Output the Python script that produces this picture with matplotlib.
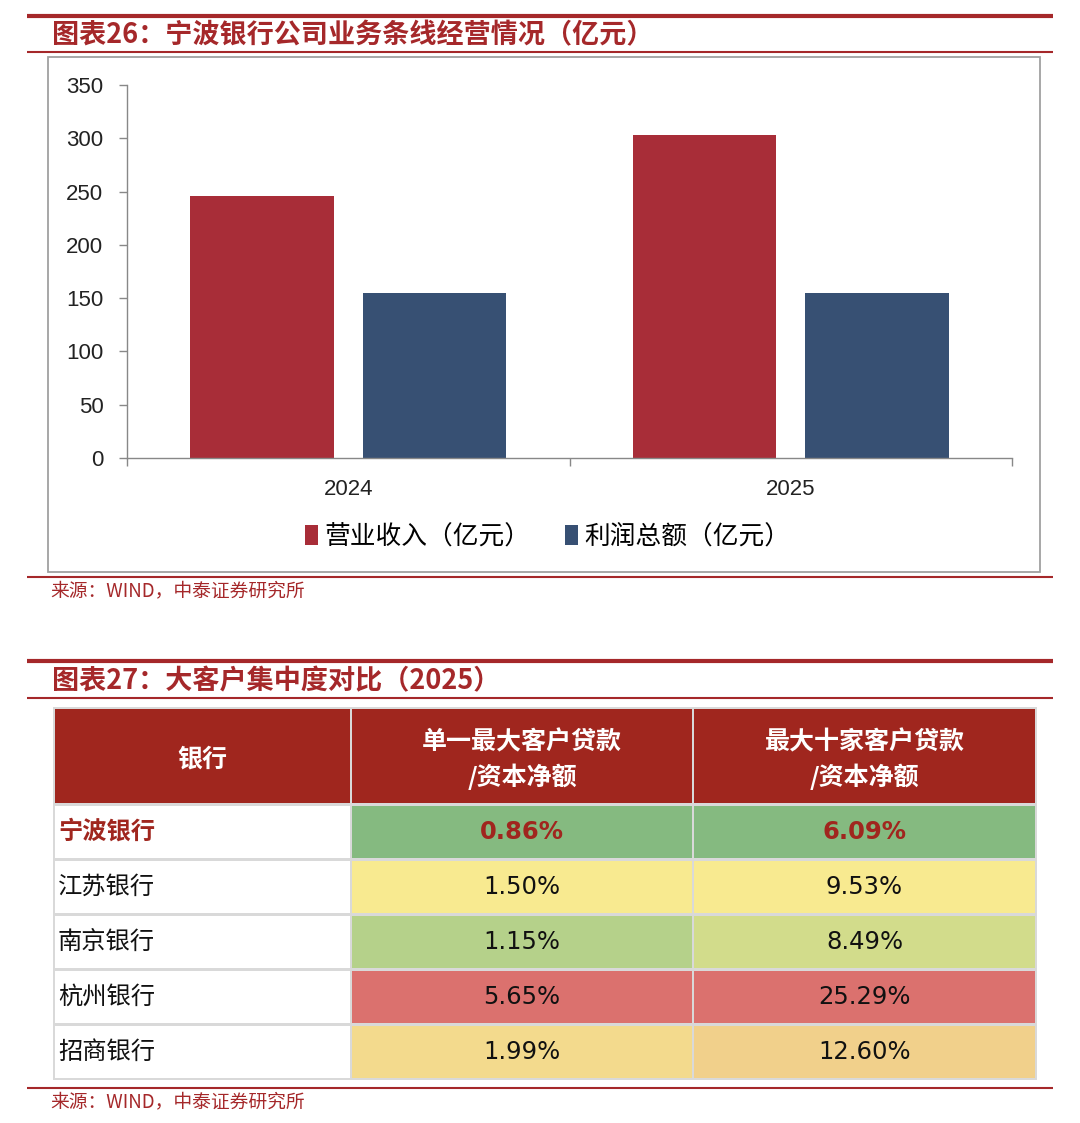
import matplotlib
matplotlib.use('Agg')
import matplotlib.pyplot as plt
from matplotlib.patches import Rectangle
import numpy as np

plt.rcParams['font.family'] = ['Liberation Sans', 'Noto Sans CJK SC', 'DejaVu Sans']

# chart 26 data
years = ['2024', '2025']
revenue = [245.6, 303.1]
profit = [154.7, 154.5]
series_names = ['营业收入（亿元）', '利润总额（亿元）']

# chart 27 data
banks = ['宁波银行', '江苏银行', '南京银行', '杭州银行', '招商银行']
top1 = ['0.86%', '1.50%', '1.15%', '5.65%', '1.99%']
top10 = ['6.09%', '9.53%', '8.49%', '25.29%', '12.60%']
headers = ['银行', '单一最大客户贷款\n/资本净额', '最大十家客户贷款\n/资本净额']
top1_colors = ['#85BA80', '#F8EA90', '#B5D18A', '#DB716E', '#F3DA8D']
top10_colors = ['#85BA80', '#F8EA90', '#D2DC8B', '#DB716E', '#F1D08B']

RED = '#A5282A'
HEAD = '#A0261E'
W, H = 1080, 1123

fig = plt.figure(figsize=(W / 100, H / 100), dpi=100)
bg = fig.add_axes([0, 0, 1, 1])
bg.set_xlim(0, W)
bg.set_ylim(H, 0)
bg.axis('off')


def rect(l, t, r, b):
    return [l / W, 1 - b / H, (r - l) / W, (b - t) / H]


def hline(y, lw):
    bg.plot([27, 1053], [y, y], color=RED, lw=lw, solid_capstyle='butt')


cjk = ['Noto Sans CJK SC', 'DejaVu Sans']
num = ['DejaVu Sans']

# ---- section 1 ----
hline(15.5, 3.0)
hline(52, 1.5)
bg.text(52, 35, '图表26：宁波银行公司业务条线经营情况（亿元）', color=RED,
        fontsize=19.5, fontweight='bold', va='center', family=cjk)
bg.add_patch(Rectangle((48, 57), 992, 515, fill=False, ec='#A0A0A0', lw=1.3))
hline(577, 1.5)
bg.text(50, 591, '来源：WIND，中泰证券研究所', color=RED, fontsize=13.5, va='center',
        family=cjk)

ax = fig.add_axes(rect(127, 85, 1012, 458))
x = np.arange(len(years))
b1 = ax.bar(x - 0.195, revenue, 0.324, color='#A82D38', label=series_names[0])
b2 = ax.bar(x + 0.195, profit, 0.324, color='#375073', label=series_names[1])
ax.set_xlim(-0.5, 1.5)
ax.set_ylim(0, 350)
ax.set_yticks(np.arange(0, 351, 50))
ax.set_xticks([-0.5, 0.5, 1.5])
ax.set_xticklabels([])
ax.set_xticks(x, minor=True)
ax.set_xticklabels(years, minor=True)
ax.tick_params(axis='x', which='minor', length=0, pad=15, labelsize=16, labelcolor='#222222')
ax.tick_params(axis='x', which='major', length=6, color='#888888', width=1)
ax.tick_params(axis='y', length=6, color='#888888', width=1, labelsize=16,
               labelcolor='#222222', pad=11)
for s in ['top', 'right']:
    ax.spines[s].set_visible(False)
for s in ['left', 'bottom']:
    ax.spines[s].set_color('#888888')
    ax.spines[s].set_linewidth(1)
ax.set_facecolor('none')
fig.legend(handles=[b1, b2], loc='center', bbox_to_anchor=(548 / W, 1 - 537 / H),
           ncol=2, frameon=False, handlelength=0.5, handleheight=0.8,
           handletextpad=0.25, columnspacing=1.35,
           prop={'family': cjk, 'size': 18.5})

# ---- section 2 ----
hline(660.5, 3.0)
hline(698, 1.5)
bg.text(52, 681, '图表27：大客户集中度对比（2025）', color=RED,
        fontsize=19.5, fontweight='bold', va='center', family=cjk)
hline(1088, 1.5)
bg.text(50, 1102, '来源：WIND，中泰证券研究所', color=RED, fontsize=13.5, va='center',
        family=cjk)

col_edges = [(55, 350), (352, 692), (694, 1035)]
row_edges = [(709, 803), (806, 858), (861, 913), (916, 968), (971, 1023), (1026, 1078)]
bg.add_patch(Rectangle((53, 707), 984, 373, color='#D9D9D9', lw=0))

t, b = row_edges[0]
for j, (l, r) in enumerate(col_edges):
    bg.add_patch(Rectangle((l, t), r - l, b - t, color=HEAD, lw=0))
    bg.text((l + r) / 2, (t + b) / 2 + 4, headers[j], color='white', fontsize=18,
            fontweight='bold', ha='center', va='center', linespacing=1.4, family=cjk)

for i, bank in enumerate(banks):
    t, b = row_edges[i + 1]
    cy = (t + b) / 2
    fills = ['white', top1_colors[i], top10_colors[i]]
    vals = [bank, top1[i], top10[i]]
    for j, (l, r) in enumerate(col_edges):
        bg.add_patch(Rectangle((l, t), r - l, b - t, color=fills[j], lw=0))
    first = i == 0
    tc = HEAD if first else '#111111'
    fw = 'bold' if first else 'normal'
    bg.text(58, cy, vals[0], color=tc, fontsize=17.5, fontweight=fw, ha='left', va='center',
            family=cjk)
    for j in (1, 2):
        l, r = col_edges[j]
        bg.text((l + r) / 2, cy, vals[j], color=tc, fontsize=17.5, fontweight=fw,
                ha='center', va='center', family=num)

fig.savefig('out.png', dpi=100)
